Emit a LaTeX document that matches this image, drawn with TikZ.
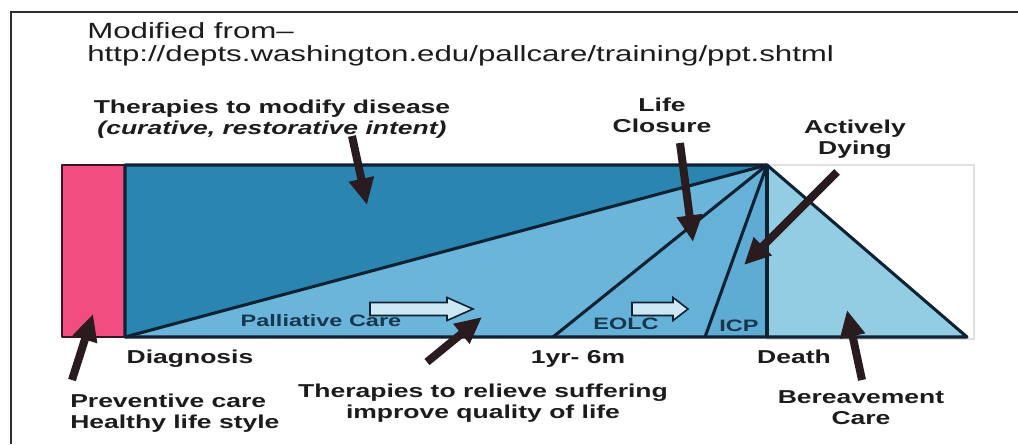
\documentclass[tikz,border=0pt]{standalone}
\usepackage{fontspec}
\newfontfamily\widesans{Liberation Sans}[FakeStretch=1.42]
\usetikzlibrary{arrows.meta}
\definecolor{framegray}{HTML}{2E2E2E}
\definecolor{textink}{HTML}{1C1C1C}
\definecolor{tagnavy}{HTML}{17364E}
\definecolor{pinkfill}{HTML}{F24D80}
\definecolor{pinkedge}{HTML}{3A1424}
\definecolor{cureblue}{HTML}{2A86B0}
\definecolor{palblue}{HTML}{6AB5D9}
\definecolor{eolcblue}{HTML}{65B1D7}
\definecolor{icpblue}{HTML}{5EABD3}
\definecolor{berblue}{HTML}{93CDE4}
\definecolor{edgenavy}{HTML}{0E2233}
\definecolor{arrowink}{HTML}{2A1B1F}
\definecolor{hollowfill}{HTML}{CDE7F4}
\definecolor{boxline}{HTML}{E0E0E0}
\newcommand{\blockarrow}[4]{% x0, x1 (tip), y, head length
  \draw[hollow] (#1,#3-6.5) -- (#2-#4,#3-6.5) -- (#2-#4,#3-11.5) -- (#2,#3)
    -- (#2-#4,#3+11.5) -- (#2-#4,#3+6.5) -- (#1,#3+6.5) -- cycle;
}

\begin{document}
\begin{tikzpicture}[
  x=0.75pt, y=-0.75pt,
  hdr/.style={font=\widesans\fontsize{16.5pt}{19pt}\selectfont, text=textink, inner sep=0},
  lbl/.style={font=\widesans\bfseries\fontsize{14pt}{15.75pt}\selectfont, text=textink,
              inner sep=0, align=center},
  inlbl/.style={font=\widesans\bfseries\fontsize{12.4pt}{14pt}\selectfont, text=tagnavy, inner sep=0},
  rim/.style={draw=edgenavy, line width=2.3pt, line join=round},
  pointer/.style={-{Triangle[length=20pt, width=18pt]}, arrowink, line width=6pt},
  hollow/.style={draw=edgenavy, fill=hollowfill, line width=1.2pt},
]
\useasboundingbox (0,0) rectangle (1018,444);
\fill[white] (0,0) rectangle (1018,444);
\draw[framegray, line width=1.3pt] (11,444) -- (11,12) -- (1018,12);

% =========================== source ===========================
\node[hdr, anchor=base west] (src) at (87,38) {Modified from–};
\node[hdr, anchor=base west] (url) at (87,61) {http://depts.washington.edu/pallcare/training/ppt.shtml};

% =========================== trajectory ===========================
\coordinate (apex) at (767,165);
\coordinate (diag) at (125,337);
\coordinate (yr) at (553,337);
\coordinate (icp) at (705,337);
\coordinate (death) at (767,337);
\coordinate (bend) at (967,337);

% white box behind bereavement
\draw[boxline, line width=0.8pt] (767,165) rectangle (974,339);
% preventive band
\fill[pinkfill] (62,165) rectangle (125,337);
\draw[rim, draw=pinkedge, line width=1.6pt] (62,165) rectangle (125,337);

% curative block and palliative wedges
\fill[cureblue] (125,165) rectangle (death);
\fill[palblue] (diag) -- (apex) -- (death) -- cycle;
\fill[eolcblue] (yr) -- (apex) -- (icp) -- cycle;
\fill[icpblue] (icp) -- (apex) -- (death) -- cycle;
\fill[berblue] (apex) -- (bend) -- (death) -- cycle;
\draw[rim] (125,165) -- (apex) -- (bend) -- (diag) -- cycle;
\foreach \p in {diag, yr, icp, death}{ \draw[rim] (\p) -- (apex); }

% in-chart labels + hollow arrows
\node[inlbl, anchor=base] (pal) at (321,326) {Palliative Care};
\node[inlbl, anchor=base] (eolc) at (626,329) {EOLC};
\node[inlbl, anchor=base] (icplbl) at (739,331) {ICP};
\blockarrow{370}{473}{309}{26}
\blockarrow{632}{688}{309}{15}

% time axis
\node[lbl, anchor=base] (diaglbl) at (190,363) {Diagnosis};
\node[lbl, anchor=base] (yrlbl) at (578,363) {1yr- 6m};
\node[lbl, anchor=base] (deathlbl) at (794,363) {Death};

% =========================== callouts ===========================
% (base anchor of a two-line label = baseline of its last line)
\node[lbl, anchor=base] (cure) at (272,134) {Therapies to modify disease\\\textit{(curative, restorative intent)}};
\node[lbl, anchor=base] (closure) at (662,132) {Life\\Closure};
\node[lbl, anchor=base] (dying) at (855,154) {Actively\\Dying};
\node[lbl, anchor=base] (relieve) at (483,418) {Therapies to relieve suffering\\improve quality of life};
\node[lbl, anchor=base west, align=left] (prevent) at (70,428) {Preventive care\\Healthy life style};
\node[lbl, anchor=base] (bereave) at (861,424) {Bereavement\\Care};

\coordinate (cureS) at (352,136);    \coordinate (cureT) at (367,205);
\coordinate (closureS) at (680,143); \coordinate (closureT) at (693,242);
\coordinate (dyingS) at (837,172);   \coordinate (dyingT) at (744,265);
\coordinate (preventS) at (72,380);  \coordinate (preventT) at (93,314);
\coordinate (relieveS) at (427,362); \coordinate (relieveT) at (482,317);
\coordinate (bereaveS) at (862,380); \coordinate (bereaveT) at (847,310);
\foreach \c in {cure, closure, dying, prevent, relieve, bereave}{
  \draw[pointer] (\c S) -- (\c T);
}
\end{tikzpicture}
\end{document}
